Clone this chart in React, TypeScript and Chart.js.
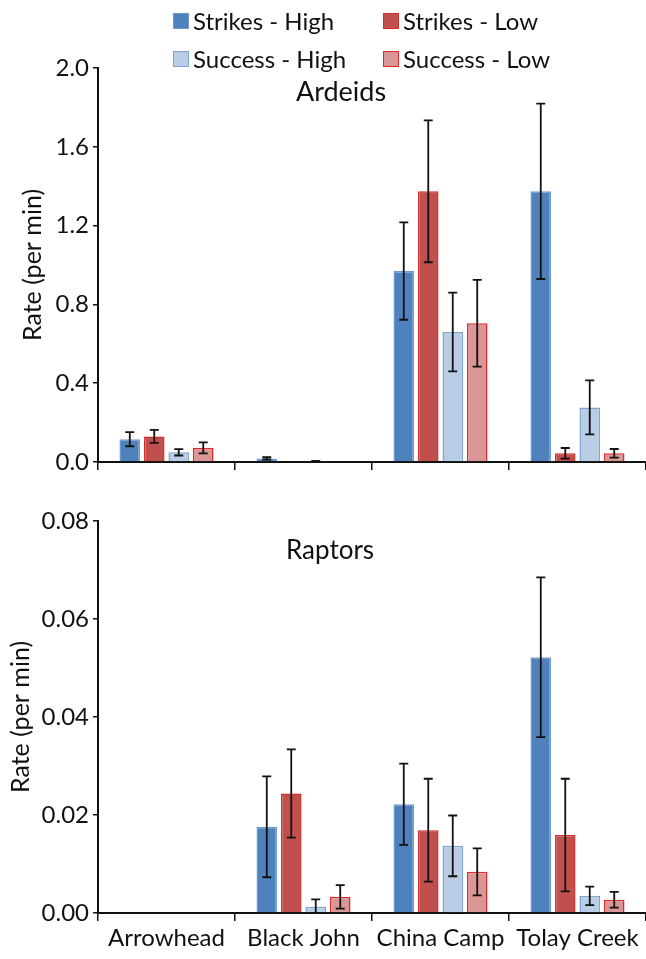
import React, { useEffect, useRef } from "react";
import { Chart, registerables } from "chart.js";

Chart.register(...registerables);

const categories = ["Arrowhead", "Black John", "China Camp", "Tolay Creek"];
const seriesNames = ["Strikes - High", "Strikes - Low", "Success - High", "Success - Low"];
const fillColors = ["#4f81bd", "#c0504d", "#b9cde5", "#d99694"];
const borderColors = ["#6f98cc", "#d2302c", "#7fa3d3", "#dd2a2a"];

// Ardeids (top panel)
const ardStrikesHigh = [0.116, 0.018, 0.969, 1.374];
const ardStrikesLow = [0.13, 0, 1.374, 0.044];
const ardSuccessHigh = [0.049, 0.003, 0.66, 0.277];
const ardSuccessLow = [0.072, 0, 0.704, 0.044];
const ardStrikesHighErr = [0.036, 0.006, 0.247, 0.445];
const ardStrikesLowErr = [0.033, 0, 0.36, 0.027];
const ardSuccessHighErr = [0.016, 0.002, 0.2, 0.137];
const ardSuccessLowErr = [0.028, 0, 0.22, 0.022];

// Raptors (bottom panel)
const rapStrikesHigh = [0, 0.0176, 0.0222, 0.0522];
const rapStrikesLow = [0, 0.0244, 0.0169, 0.0159];
const rapSuccessHigh = [0, 0.0013, 0.0137, 0.0035];
const rapSuccessLow = [0, 0.0033, 0.0084, 0.0027];
const rapStrikesHighErr = [0, 0.0103, 0.0083, 0.0163];
const rapStrikesLowErr = [0, 0.009, 0.0105, 0.0115];
const rapSuccessHighErr = [0, 0.0015, 0.0062, 0.0019];
const rapSuccessLowErr = [0, 0.0024, 0.0048, 0.0016];

const ardTicks = [0, 0.4, 0.8, 1.2, 1.6, 2.0];
const rapTicks = [0, 0.02, 0.04, 0.06, 0.08];

const FONT = "Lato, 'Open Sans', sans-serif";

const ardValues = [ardStrikesHigh, ardStrikesLow, ardSuccessHigh, ardSuccessLow];
const ardErrors = [ardStrikesHighErr, ardStrikesLowErr, ardSuccessHighErr, ardSuccessLowErr];
const rapValues = [rapStrikesHigh, rapStrikesLow, rapSuccessHigh, rapSuccessLow];
const rapErrors = [rapStrikesHighErr, rapStrikesLowErr, rapSuccessHighErr, rapSuccessLowErr];

const errorBarPlugin = {
  id: "errorBars",
  afterDatasetsDraw(chart: any) {
    const errs = chart.options.plugins.errorBars?.errors;
    if (!errs) return;
    const ctx = chart.ctx;
    const yScale = chart.scales.y;
    ctx.save();
    ctx.strokeStyle = "#111";
    ctx.lineWidth = 1.8;
    chart.data.datasets.forEach((ds: any, di: number) => {
      const meta = chart.getDatasetMeta(di);
      meta.data.forEach((bar: any, i: number) => {
        const v = ds.data[i];
        const e = errs[di][i];
        if (!e) return;
        const x = bar.x;
        const yTop = yScale.getPixelForValue(v + e);
        const yBot = yScale.getPixelForValue(Math.max(0, v - e));
        const cap = 4.5;
        ctx.beginPath();
        ctx.moveTo(x, yTop);
        ctx.lineTo(x, yBot);
        ctx.moveTo(x - cap, yTop);
        ctx.lineTo(x + cap, yTop);
        ctx.moveTo(x - cap, yBot);
        ctx.lineTo(x + cap, yBot);
        ctx.stroke();
      });
    });
    ctx.restore();
  },
};

const panelTitlePlugin = {
  id: "panelTitle",
  afterDraw(chart: any) {
    const o = chart.options.plugins.panelTitle;
    if (!o) return;
    const ctx = chart.ctx;
    ctx.save();
    ctx.font = `${o.size}px ${FONT}`;
    ctx.fillStyle = "#111";
    ctx.textAlign = "center";
    ctx.textBaseline = "middle";
    ctx.fillText(o.text, o.x, o.y);
    ctx.restore();
  },
};

function makeConfig(
  values: number[][],
  errors: number[][],
  ticks: number[],
  decimals: number,
  showLabels: boolean,
  padTop: number,
  xHeight: number,
  titlePad: number,
  title: { text: string; x: number; y: number; size: number }
): any {
  return {
    type: "bar",
    data: {
      labels: categories,
      datasets: values.map((vals, i) => ({
        label: seriesNames[i],
        data: vals,
        backgroundColor: fillColors[i],
        borderColor: borderColors[i],
        borderWidth: 1.5,
        categoryPercentage: 0.715,
        barPercentage: 0.84,
      })),
    },
    options: {
      responsive: false,
      animation: false,
      layout: { padding: { top: padTop, left: 0, right: 0, bottom: 0 } },
      plugins: {
        legend: { display: false },
        tooltip: { enabled: false },
        errorBars: { errors },
        panelTitle: title,
      },
      scales: {
        x: {
          grid: {
            offset: true,
            drawOnChartArea: false,
            drawTicks: true,
            tickLength: 8,
            color: "#111",
            lineWidth: 1.5,
          },
          border: { display: true, color: "#111", width: 2 },
          ticks: {
            display: showLabels,
            color: "#111",
            font: { family: FONT, size: 24 },
            padding: 3,
            maxRotation: 0,
            autoSkip: false,
          },
          afterFit: (s: any) => {
            s.height = xHeight;
          },
        },
        y: {
          min: ticks[0],
          max: ticks[ticks.length - 1],
          afterBuildTicks: (s: any) => {
            s.ticks = ticks.map((v) => ({ value: v }));
          },
          ticks: {
            color: "#111",
            font: { family: FONT, size: 24 },
            padding: 4,
            callback: (v: any) => Number(v).toFixed(decimals),
          },
          grid: {
            drawOnChartArea: false,
            drawTicks: true,
            tickLength: 5,
            color: "#111",
            lineWidth: 1.5,
          },
          border: { display: true, color: "#111", width: 2 },
          title: {
            display: true,
            text: "Rate (per min)",
            color: "#111",
            font: { family: FONT, size: 25 },
            padding: { top: titlePad, bottom: 0 },
          },
          afterFit: (s: any) => {
            s.width = 98;
          },
        },
      },
    },
    plugins: [errorBarPlugin, panelTitlePlugin],
  };
}

function LegendItem({ name, color, border }: { name: string; color: string; border: string }) {
  return (
    <div style={{ display: "flex", alignItems: "center", whiteSpace: "nowrap", height: 28 }}>
      <span
        style={{
          display: "inline-block",
          width: 14,
          height: 14,
          background: color,
          border: `1.5px solid ${border}`,
          marginRight: 4,
        }}
      />
      <span style={{ fontFamily: FONT, fontSize: 24, color: "#111", lineHeight: "28px" }}>{name}</span>
    </div>
  );
}

export default function App() {
  const topRef = useRef<HTMLCanvasElement>(null);
  const botRef = useRef<HTMLCanvasElement>(null);

  useEffect(() => {
    document.body.style.margin = "0";
    const c1 = new Chart(
      topRef.current as HTMLCanvasElement,
      makeConfig(ardValues, ardErrors, ardTicks, 1, false, 68, 20, 18, { text: "Ardeids", x: 341, y: 92, size: 27 })
    );
    const c2 = new Chart(
      botRef.current as HTMLCanvasElement,
      makeConfig(rapValues, rapErrors, rapTicks, 2, true, 39, 46, 6, { text: "Raptors", x: 330, y: 69, size: 26 })
    );
    return () => {
      c1.destroy();
      c2.destroy();
    };
  }, []);

  return (
    <div style={{ position: "relative", width: 646, height: 959, background: "#fff", overflow: "hidden" }}>
      <canvas ref={topRef} width={646} height={482} style={{ position: "absolute", left: 0, top: 0 }} />
      <canvas ref={botRef} width={646} height={477} style={{ position: "absolute", left: 0, top: 482 }} />
      <div style={{ position: "absolute", left: 173, top: 7 }}>
        <LegendItem name={seriesNames[0]} color={fillColors[0]} border={borderColors[0]} />
      </div>
      <div style={{ position: "absolute", left: 383, top: 7 }}>
        <LegendItem name={seriesNames[1]} color={fillColors[1]} border={borderColors[1]} />
      </div>
      <div style={{ position: "absolute", left: 173, top: 45 }}>
        <LegendItem name={seriesNames[2]} color={fillColors[2]} border={borderColors[2]} />
      </div>
      <div style={{ position: "absolute", left: 383, top: 45 }}>
        <LegendItem name={seriesNames[3]} color={fillColors[3]} border={borderColors[3]} />
      </div>
    </div>
  );
}
